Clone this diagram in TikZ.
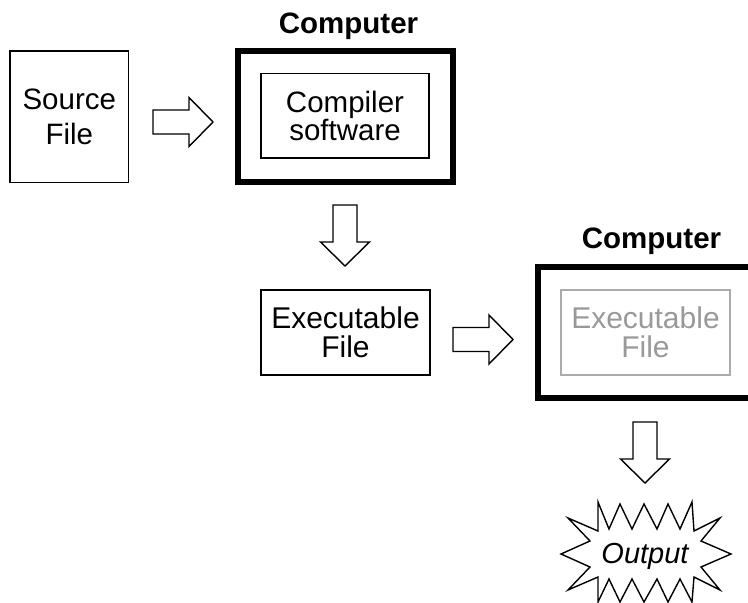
\documentclass[tikz,border=0pt]{standalone}
\usepackage{fontspec}
\setmainfont{Liberation Sans}
\begin{document}
\begin{tikzpicture}[x=1pt,y=-1pt,
  thinbox/.style={draw=black,line width=1.5pt,inner sep=0pt,align=center,
    font=\fontsize{30}{31}\selectfont},
  thickbox/.style={draw=black,line width=6pt,inner sep=0pt},
  graybox/.style={draw=black!33,line width=1.5pt,inner sep=0pt,align=center,text=black!40,
    font=\fontsize{30}{30}\selectfont},
  title/.style={font=\fontsize{29.5}{32}\selectfont\bfseries,anchor=base,inner sep=0pt},
  blockarrow/.style={draw=black,line width=1.4pt,fill=white,line join=miter},
  rarrow/.pic={\path[blockarrow] (0,-12) -- (36,-12) -- (36,-24.5) -- (60,0) -- (36,24.5) -- (36,12) -- (0,12) -- cycle;},
  darrow/.pic={\path[blockarrow] (-12,0) -- (12,0) -- (12,37) -- (24.5,37) -- (0,61) -- (-24.5,37) -- (-12,37) -- cycle;}
]
\useasboundingbox (0,0) rectangle (748,603);

% Source file
\node[thinbox,minimum width=118.5pt,minimum height=131.5pt,font=\fontsize{29.5}{35}\selectfont] (src) at (69.3,116.5) {Source\\File};

% Computer 1
\node[thickbox,minimum width=215pt,minimum height=131pt] (comp1) at (345.5,116.5) {};
\node[thinbox,minimum width=168pt,minimum height=84.5pt,font=\fontsize{29.5}{28.5}\selectfont] (compiler) at (345,115.8) {Compiler\\software};
\node[title] (t1) at (348.5,33.3) {Computer};

% arrows
\pic at (153,122) {rarrow};
\pic at (345,205) {darrow};

% Executable
\node[thinbox,minimum width=169pt,minimum height=85pt,font=\fontsize{30}{29.5}\selectfont] (exe) at (345.5,332.5) {Executable\\File};
\pic at (453,339.5) {rarrow};

% Computer 2
\node[thickbox,minimum width=215pt,minimum height=131pt] (comp2) at (645.5,332.5) {};
\node[graybox,minimum width=169pt,minimum height=85pt,font=\fontsize{30}{29.5}\selectfont] (exe2) at (645.5,332.5) {Executable\\File};
\node[title] (t2) at (651.5,248.3) {Computer};

\pic at (645,422) {darrow};

% Output starburst
\draw[line width=1.4pt,line join=miter,fill=white]
  (561,554) -- (590,541) -- (568,518) -- (598,531) -- (598,502) -- (609,529)
  -- (620,504) -- (632,529) -- (644,504) -- (657,529) -- (668,504) -- (680,529)
  -- (692,502) -- (694,531) -- (720,518) -- (701,541) -- (731,554) -- (701,567)
  -- (720,590) -- (694,577) -- (692,602) -- (680,579) -- (668,602) -- (657,579)
  -- (644,602) -- (632,579) -- (620,602) -- (609,579) -- (598,602) -- (598,577)
  -- (568,590) -- (590,567) -- cycle;
\node[font=\fontsize{29}{30}\selectfont\itshape,anchor=base,inner sep=0pt] (out) at (645,563) {Output};
\end{tikzpicture}
\end{document}
